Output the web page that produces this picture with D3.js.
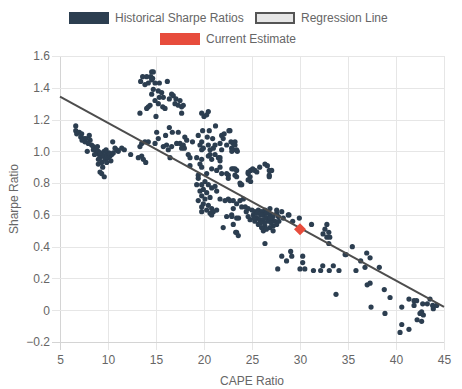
<!DOCTYPE html>
<html>
<head>
<meta charset="utf-8">
<script src="https://cdn.jsdelivr.net/npm/d3@7"></script>
<style>
  html, body { margin: 0; padding: 0; background: #fff; }
  svg { display: block; font-family: "Liberation Sans", Arial, Helvetica, sans-serif; }
</style>
</head>
<body>
<svg id="chart" width="462" height="389"></svg>
<script>
// ---- Data ----
const xTicks = [5, 10, 15, 20, 25, 30, 35, 40, 45];
const yTicks = [-0.2, 0, 0.2, 0.4, 0.6, 0.8, 1.0, 1.2, 1.4, 1.6];
const legendLabels = ["Historical Sharpe Ratios", "Regression Line", "Current Estimate"];

// [CAPE ratio, Sharpe ratio]
const historical = [
  // low CAPE cluster
  [6.64,1.16],[6.64,1.13],[6.74,1.11],[7.01,1.12],[7.26,1.11],[7.16,1.09],[7.5,1.08],[7.71,1.08],[7.6,1.06],[8.05,1.10],
  [8.13,1.07],[7.95,1.05],[8.3,1.04],[8.47,1.03],[7.84,1.00],[8.47,1.01],[8.75,1.01],[8.82,0.99],[8.99,1.00],[9.09,0.98],
  [9.34,0.98],[9.17,0.96],[9.51,0.97],[9.34,0.93],[8.99,0.92],[9.69,0.95],[9.86,0.98],[10.03,0.96],[10.21,0.97],[10.39,0.98],
  [10.49,1.06],[10.73,1.02],[10.91,1.01],[10.55,0.99],[11.07,1.00],[11.43,1.02],[11.7,1.01],[9.86,0.93],[9.17,0.87],[9.34,0.86],
  [9.61,0.84],[12.36,0.98],[13.16,0.96],[13.51,0.97],[13.68,0.95],[13.93,0.93],[13.33,1.03],[13.51,1.05],[13.85,1.06],[14.2,1.06],
  [9.2,0.99],[9.6,1.0],[9.0,0.95],[10.1,0.99],[8.6,0.98],[9.8,1.01],[10.3,0.94],[9.45,0.9],[7.3,1.07],[8.9,1.03],
  // high cluster
  [14.55,1.50],[14.72,1.50],[13.61,1.47],[14.03,1.47],[14.45,1.47],[14.65,1.46],[13.4,1.44],[13.85,1.42],[14.2,1.43],[14.55,1.45],
  [14.9,1.43],[15.35,1.43],[16.18,1.44],[14.72,1.39],[15.24,1.38],[15.59,1.37],[14.55,1.36],[15.35,1.34],[15.76,1.34],[16.63,1.36],
  [16.8,1.35],[16.39,1.33],[17.08,1.33],[14.9,1.32],[15.24,1.30],[14.38,1.29],[14.2,1.28],[14.03,1.27],[15.7,1.28],[15.94,1.27],
  [16.98,1.30],[17.5,1.32],[17.32,1.29],[17.67,1.28],[17.84,1.29],[17.67,1.24],[13.33,1.24],[15.0,1.22],[19.76,1.24],[20.0,1.22],
  [20.28,1.23],[20.45,1.25],
  // middle band
  [16.39,1.15],[15.07,1.12],[16.0,1.10],[16.7,1.12],[17.32,1.12],[15.24,1.08],[18.0,1.09],[18.2,1.07],[18.8,1.06],[19.4,1.10],
  [19.86,1.13],[20.55,1.13],[21.2,1.16],[20.34,1.09],[19.76,1.06],[20.9,1.08],[21.84,1.10],[22.1,1.11],[22.6,1.13],[22.0,1.08],
  [22.81,1.06],[23.23,1.06],[21.67,1.05],[21.15,1.04],[14.9,1.05],[16.1,1.04],[16.63,1.03],[17.15,1.05],[17.5,1.05],[17.84,1.04],
  [17.95,1.02],[15.76,1.03],[16.28,1.01],[17.67,1.02],[19.58,1.04],[19.93,1.02],[20.45,1.04],[20.63,1.01],[20.97,1.02],[21.15,0.98],
  [19.76,1.01],[21.84,1.01],[22.36,1.04],[22.88,1.02],[23.05,1.01],[23.4,1.01],[18.36,0.98],[19.24,0.96],[19.76,0.95],[20.45,0.97],
  [20.8,0.95],[21.5,0.96],[16.46,0.96],[21.67,0.94],[22.7,1.13],[23.05,1.05],[23.23,1.04],[22.9,1.0],[23.47,1.00],
  // 0.6 - 0.95 band
  [18.54,0.96],[20.63,0.98],[21.67,0.96],[18.54,0.91],[19.58,0.92],[19.76,0.90],[20.28,0.86],[20.8,0.89],[21.32,0.88],[21.67,0.90],
  [21.84,0.86],[22.36,0.86],[22.53,0.85],[23.05,0.89],[23.4,0.88],[23.23,0.85],[22.53,0.83],[23.75,0.80],[24.6,0.86],[19.4,0.83],
  [20.1,0.81],[20.45,0.79],[19.76,0.79],[19.93,0.76],[19.58,0.75],[20.28,0.74],[20.8,0.77],[21.15,0.78],[21.32,0.75],[20.63,0.71],
  [20.1,0.70],[19.76,0.72],[19.4,0.69],[19.93,0.67],[20.45,0.66],[20.8,0.64],[20.97,0.62],[21.32,0.63],[20.28,0.63],[20.63,0.61],
  [20.8,0.60],[19.76,0.65],[19.76,0.62],[21.67,0.70],[22.19,0.69],[22.53,0.70],[23.05,0.69],[23.4,0.67],[23.75,0.69],[23.93,0.65],
  [23.05,0.64],[22.36,0.59],[22.88,0.60],[23.4,0.58],[22.0,0.52],[23.4,0.49],[23.57,0.47],[19.4,0.85],[19.24,0.79],
  [22.9,0.89],[23.23,0.89],[23.4,0.84],[23.93,0.79],[24.6,0.87],[24.6,0.82],[24.86,0.88],[25.07,0.89],[25.3,0.88],[25.5,0.87],
  [25.8,0.90],[26.35,0.92],[26.6,0.91],[26.8,0.88],[27.05,0.88],[26.8,0.85],[26.8,0.84],[24.8,0.84],[24.86,0.81],[23.8,0.79],
  // dense cluster around CAPE 25-28
  [22.7,0.69],[24.1,0.70],[24.3,0.65],[24.6,0.64],[25.0,0.63],[25.3,0.62],[25.66,0.63],[26.0,0.62],[26.18,0.60],[26.5,0.61],
  [26.87,0.60],[27.2,0.59],[27.57,0.61],[27.74,0.59],[25.14,0.60],[25.5,0.58],[25.8,0.57],[26.18,0.57],[26.5,0.58],[26.7,0.56],
  [27.05,0.57],[27.4,0.56],[27.57,0.54],[27.2,0.53],[26.87,0.52],[26.35,0.53],[26.0,0.52],[25.66,0.54],[25.3,0.56],[24.8,0.57],
  [24.6,0.59],[26.18,0.50],[26.5,0.51],[27.2,0.50],[28.26,0.58],[28.78,0.60],[28.1,0.62],[27.57,0.63],[26.87,0.64],[26.35,0.63],
  [22.9,0.59],[23.6,0.58],[23.05,0.54],[23.3,0.49],[25.9,0.60],[26.3,0.55],[25.2,0.58],[27.0,0.55],[26.6,0.62],[25.5,0.61],
  [26.9,0.58],[25.9,0.55],[24.4,0.62],[27.8,0.56],
  // high CAPE
  [31.2,0.54],[32.8,0.54],[32.6,0.51],[33.0,0.49],[32.4,0.48],[32.8,0.46],[33.1,0.46],[29.93,0.58],[26.35,0.42],[28.85,0.60],
  [29.24,0.56],[27.68,0.26],[28.1,0.34],[28.6,0.31],[29.03,0.37],[29.14,0.34],[30.28,0.34],[30.28,0.30],[30.0,0.26],[30.5,0.26],
  [31.4,0.25],[32.15,0.25],[32.37,0.28],[33.05,0.25],[33.47,0.28],[34.06,0.25],[33.75,0.10],[33.0,0.42],[34.79,0.35],[35.45,0.40],
  [34.7,0.35],[35.83,0.25],[36.32,0.31],[36.77,0.27],[36.95,0.36],[37.3,0.33],[38.26,0.27],[37.0,0.16],[37.3,0.17],[37.4,0.02],
  [38.78,0.13],[39.38,0.08],[38.85,-0.02],[40.6,0.02],[40.6,-0.09],[40.42,-0.14],[41.35,-0.12],[41.35,0.07],[41.88,0.06],[41.88,0.03],
  [42.15,0.06],[42.2,-0.06],[42.5,-0.02],[42.67,-0.01],[42.85,-0.03],[42.67,-0.07],[42.78,0.04],[43.26,0.04],[43.54,0.07],[43.82,0.03],
  [43.89,0.01],[44.24,0.03]
];

const regressionLine = [[5, 1.344], [45, 0.021]];
const currentEstimate = [30, 0.51];

// ---- Drawing ----
const svg = d3.select("#chart");
const plotLeft = 60, plotRight = 444, plotTop = 56, plotBottom = 342;
const x = d3.scaleLinear().domain([5, 45]).range([plotLeft, plotRight]);
const y = d3.scaleLinear().domain([-0.2, 1.6]).range([plotBottom, plotTop]);
const textColor = "#666";
const gridColor = "#e6e6e6";
const fmtY = d => d === 0 ? "0" : d3.format(".1f")(d);

// grid
const grid = svg.append("g");
grid.selectAll("line.vx").data(xTicks).join("line")
  .attr("x1", d => x(d) + 0.5).attr("x2", d => x(d) + 0.5)
  .attr("y1", plotTop).attr("y2", plotBottom + 8)
  .attr("stroke", d => d === 5 ? "#d4d4d4" : gridColor).attr("stroke-width", 1);
grid.selectAll("line.hy").data(yTicks).join("line")
  .attr("y1", d => Math.round(y(d)) + 0.5).attr("y2", d => Math.round(y(d)) + 0.5)
  .attr("x1", plotLeft - 8).attr("x2", plotRight)
  .attr("stroke", d => d === -0.2 ? "#d4d4d4" : gridColor).attr("stroke-width", 1);

// axes (labels via d3 axes, lines hidden)
const xAxis = svg.append("g").attr("transform", `translate(0,${plotBottom + 10})`)
  .call(d3.axisBottom(x).tickValues(xTicks).tickSize(0).tickPadding(3));
xAxis.select(".domain").remove();
xAxis.selectAll("text").attr("fill", textColor).attr("font-size", 12)
  .attr("font-family", "Liberation Sans, Arial, sans-serif");

const yAxis = svg.append("g").attr("transform", `translate(${plotLeft - 10},0)`)
  .call(d3.axisLeft(y).tickValues(yTicks).tickFormat(fmtY).tickSize(0).tickPadding(0));
yAxis.select(".domain").remove();
yAxis.selectAll("text").attr("fill", textColor).attr("font-size", 12)
  .attr("font-family", "Liberation Sans, Arial, sans-serif");

// axis titles
svg.append("text").attr("x", (plotLeft + plotRight) / 2).attr("y", 385)
  .attr("text-anchor", "middle").attr("fill", textColor).attr("font-size", 12)
  .text("CAPE Ratio");
svg.append("text").attr("transform", `translate(18,${(plotTop + plotBottom) / 2}) rotate(-90)`)
  .attr("text-anchor", "middle").attr("fill", textColor).attr("font-size", 12)
  .text("Sharpe Ratio");

// historical points
svg.append("g").selectAll("circle").data(historical).join("circle")
  .attr("cx", d => x(d[0])).attr("cy", d => y(d[1])).attr("r", 2.6)
  .attr("fill", "#2c3e50");

// regression line
svg.append("path").datum(regressionLine)
  .attr("d", d3.line().x(d => x(d[0])).y(d => y(d[1])))
  .attr("fill", "none").attr("stroke", "#4d4d4d").attr("stroke-width", 2);

// current estimate diamond
const dsz = 6;
svg.append("path")
  .attr("transform", `translate(${x(currentEstimate[0])},${y(currentEstimate[1])})`)
  .attr("d", `M0,${-dsz}L${dsz},0L0,${dsz}L${-dsz},0Z`)
  .attr("fill", "#e74c3c");

// legend
const legend = svg.append("g").attr("font-size", 12).attr("fill", textColor);
const legendItems = [
  { label: legendLabels[0], bx: 69, by: 12, fill: "#2c3e50", stroke: "#2c3e50", sw: 1 },
  { label: legendLabels[1], bx: 255, by: 12, fill: "#e6e6e6", stroke: "#555", sw: 2 },
  { label: legendLabels[2], bx: 160, by: 33, fill: "#e74c3c", stroke: "#e74c3c", sw: 1 }
];
legendItems.forEach(it => {
  legend.append("rect").attr("x", it.bx + it.sw / 2).attr("y", it.by + it.sw / 2)
    .attr("width", 40 - it.sw).attr("height", 12 - it.sw)
    .attr("fill", it.fill).attr("stroke", it.stroke).attr("stroke-width", it.sw);
  legend.append("text").attr("x", it.bx + 46).attr("y", it.by + 6).attr("dy", "0.35em")
    .attr("fill", textColor).text(it.label);
});
</script>
</body>
</html>
